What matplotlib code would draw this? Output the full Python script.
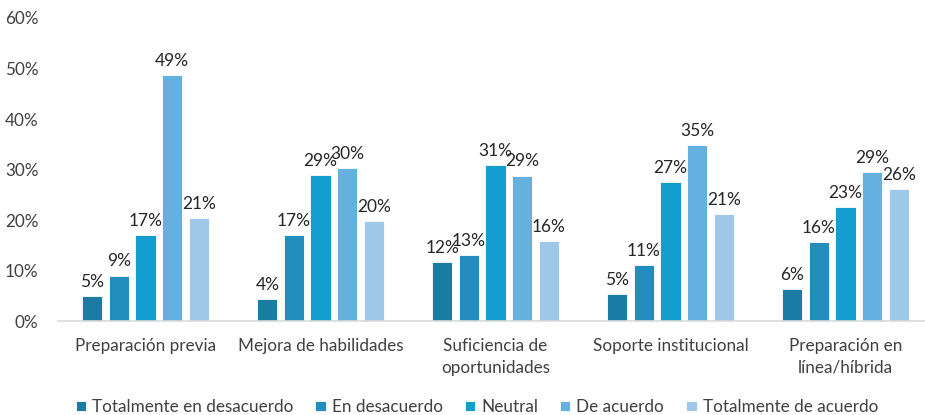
import numpy as np
import matplotlib.pyplot as plt
import matplotlib.ticker as mticker

categories = ["Preparación previa", "Mejora de habilidades", "Suficiencia de\noportunidades",
              "Soporte institucional", "Preparación en\nlínea/híbrida"]
series_names = ["Totalmente en desacuerdo", "En desacuerdo", "Neutral",
                "De acuerdo", "Totalmente de acuerdo"]

# percentages (label = rounded value)
tot_desacuerdo = [4.9, 4.3, 11.7, 5.4, 6.3]
en_desacuerdo = [9.0, 17.1, 13.0, 11.0, 15.7]
neutral = [17.1, 28.9, 30.9, 27.5, 22.5]
de_acuerdo = [48.7, 30.2, 28.8, 34.9, 29.5]
tot_acuerdo = [20.4, 19.8, 15.8, 21.1, 26.1]
labels = [[5, 4, 12, 5, 6], [9, 17, 13, 11, 16], [17, 29, 31, 27, 23],
          [49, 30, 29, 35, 29], [21, 20, 16, 21, 26]]

colors = ["#1B7CA3", "#238DBE", "#149DCF", "#64B1DF", "#9FC7E7"]

plt.rcParams['font.family'] = ['Lato', 'DejaVu Sans']

fig = plt.figure(figsize=(9.25, 4.15), dpi=100)
ax = fig.add_axes([58 / 925, 94 / 415, 1 - 58 / 925, 303 / 415])

x = np.arange(len(categories))
pitch = 0.152
all_series = [tot_desacuerdo, en_desacuerdo, neutral, de_acuerdo, tot_acuerdo]
for i, vals in enumerate(all_series):
    pos = x + (i - 2) * pitch
    ax.bar(pos, vals, width=0.115, color=colors[i], label=series_names[i],
           edgecolor="white", linewidth=0.6, zorder=2)
    for p, v, lab in zip(pos, vals, labels[i]):
        ax.text(p, v + 1.2, f"{lab}%", ha="center", va="bottom",
                fontsize=12.5, color="#262626")

ax.set_xlim(-0.5, 4.454)
ax.set_ylim(0, 60)
ax.yaxis.set_major_locator(mticker.MultipleLocator(10))
ax.yaxis.set_major_formatter(mticker.FuncFormatter(lambda v, _: f"{v:.0f}%"))
ax.set_xticks(x)
ax.set_xticklabels(categories, fontsize=12.3, color="#404040", linespacing=1.45)

for s in ["top", "right", "left"]:
    ax.spines[s].set_visible(False)
ax.spines["bottom"].set_color("#D9D9D9")
ax.spines["bottom"].set_linewidth(1.2)
ax.tick_params("both", length=0)
ax.tick_params(axis="y", labelsize=12.3, labelcolor="#404040", pad=14)
ax.tick_params(axis="x", pad=12)

ax.legend(loc="center", bbox_to_anchor=(0.483, -0.284),
          ncol=5, frameon=False, fontsize=12.3, handlelength=0.6, handleheight=0.6,
          handletextpad=0.35, columnspacing=1.3, labelcolor="#404040")

fig.savefig("out.png", dpi=100)
